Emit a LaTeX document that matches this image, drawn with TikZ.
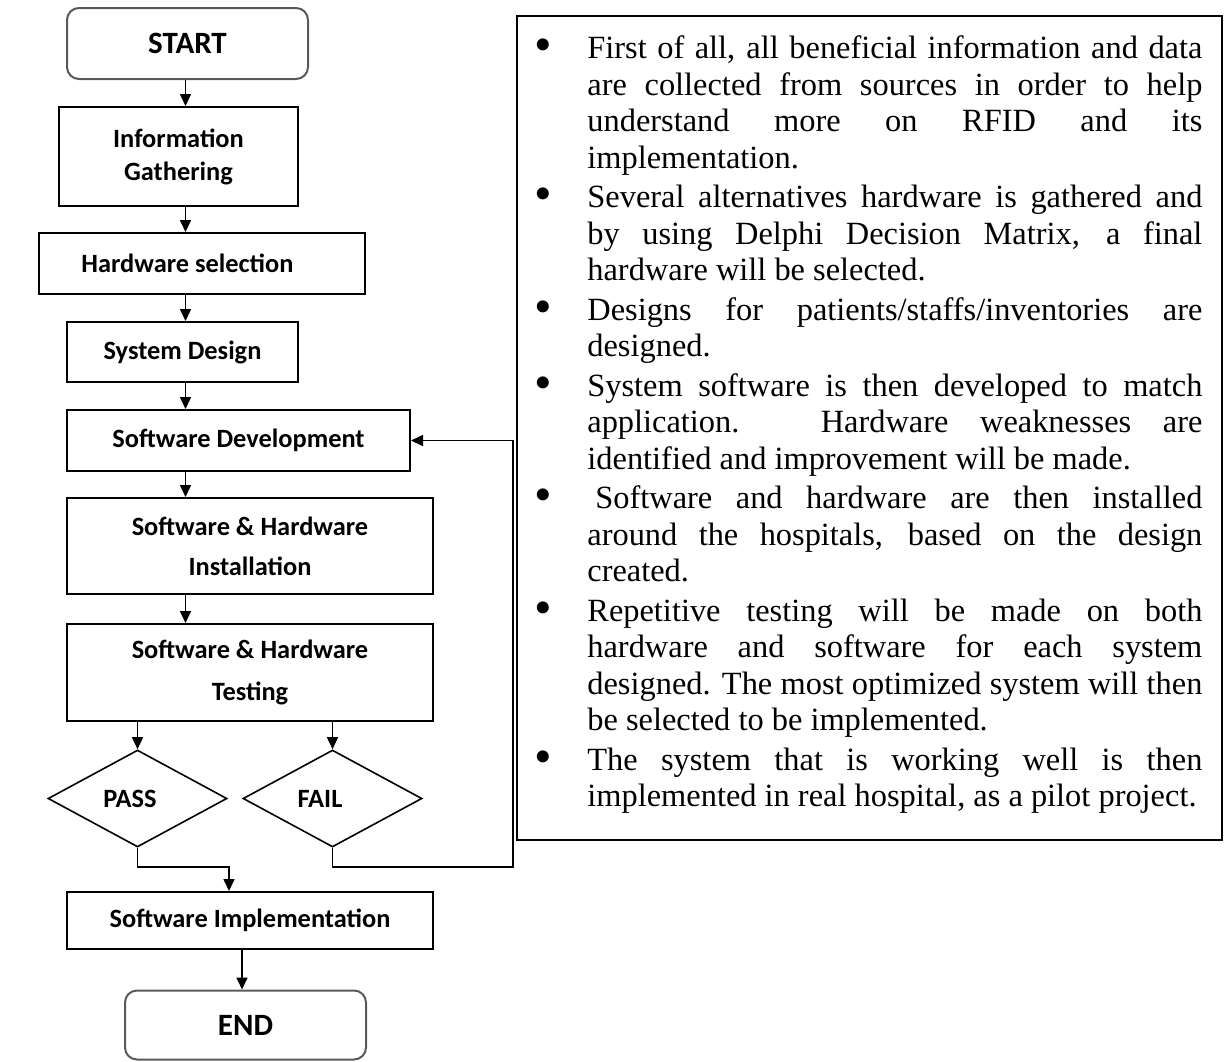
\documentclass[tikz,border=0pt]{standalone}
\usepackage{fontspec}
\setmainfont{Liberation Serif}
\newfontfamily\flowfont{Carlito}
\usetikzlibrary{arrows.meta,shapes.geometric,calc}

% justified note lines
\newlength\tw \setlength\tw{307.5pt}
\newcommand\fullln[1]{\makebox[\tw][s]{#1}}
\newcommand\lastln[1]{\makebox[\tw][l]{#1}}
\newcommand\bul{\makebox[28.5pt][l]{\hspace{2.2pt}\raisebox{-1.6pt}{\scalebox{1.55}{\textbullet}}}}
\newcommand\ind{\hspace*{28.5pt}}

\begin{document}
\begin{tikzpicture}[x=0.5pt,y=-0.5pt,
  proc/.style={draw, line width=1pt, inner sep=0pt, align=center,
    font=\flowfont\bfseries\fontsize{13.2}{16.5}\selectfont},
  term/.style={draw=black!65, line width=1pt, rounded corners=6pt, inner sep=0pt,
    font=\flowfont\bfseries\fontsize{15.5}{18}\selectfont},
  dec/.style={diamond, draw, line width=0.8pt, inner sep=0pt,
    font=\flowfont\bfseries\fontsize{13.2}{16.5}\selectfont},
  arr/.style={-{Triangle[length=6pt,width=5.5pt]}, line width=0.8pt}]
\useasboundingbox (0,0) rectangle (1226,1061);

% flowchart
\node[term, minimum width=120.5pt, minimum height=35.5pt] (start) at (187.5,43.5) {START};
\node[proc, minimum width=119.5pt, minimum height=49.5pt] (info) at (178.5,156.5) {Information\\Gathering};
\node[proc, minimum width=163pt, minimum height=30.5pt] (hws) at (202,263.5) {Hardware selection\hspace*{14.5pt}};
\node[proc, minimum width=115.5pt, minimum height=30pt] (sd) at (182.5,352) {System Design};
\node[proc, minimum width=171.5pt, minimum height=30.5pt] (swd) at (238.5,440.5) {Software Development};
\node[proc, minimum width=183pt, minimum height=48pt,
  font=\flowfont\bfseries\fontsize{13.2}{20}\selectfont] (inst) at (250,546) {Software \& Hardware\\Installation};
\node[proc, minimum width=183pt, minimum height=48.5pt,
  font=\flowfont\bfseries\fontsize{13.2}{21}\selectfont] (test) at (250,672.5) {Software \& Hardware\\Testing};
\node[dec, minimum width=89.5pt, minimum height=48.5pt] (pass) at (137.5,798.5) {PASS\hspace*{7.5pt}};
\node[dec, minimum width=89.5pt, minimum height=48.5pt] (fail) at (332.5,798.5) {FAIL\hspace*{12.5pt}};
\node[proc, minimum width=183pt, minimum height=28.5pt] (impl) at (250,920.5) {Software Implementation};
\node[term, minimum width=120.5pt, minimum height=34.5pt] (stop) at (245.5,1025) {END};

% connectors
\coordinate (spine) at (185.5,0);
\draw[arr] (spine |- start.south) -- (spine |- info.north);
\draw[arr] (spine |- info.south) -- (spine |- hws.north);
\draw[arr] (spine |- hws.south) -- (spine |- sd.north);
\draw[arr] (spine |- sd.south) -- (spine |- swd.north);
\draw[arr] (spine |- swd.south) -- (spine |- inst.north);
\draw[arr] (spine |- inst.south) -- (spine |- test.north);
\draw[arr] (pass.north |- test.south) -- (pass.north);
\draw[arr] (fail.north |- test.south) -- (fail.north);
\coordinate (merge) at (229,867);
\coordinate (loop) at (513,867);
\draw[arr] (pass.south) |- (merge) -- (merge |- impl.north);
\draw[arr] (fail.south) |- (loop) -- (loop |- swd.east) -- (swd.east);
\coordinate (drop) at (242,0);
\draw[arr] (drop |- impl.south) -- (drop |- stop.north);

% notes panel
\node[draw, line width=1pt, inner sep=0pt, minimum width=352.5pt, minimum height=412pt] (notes) at (869.5,428) {};
\node[anchor=north west, inner sep=0pt, align=left,
  font=\fontsize{16.2}{18.25}\selectfont] (list) at (530,34.3) {%
\bul\fullln{\rule{0pt}{12pt}First of all, all beneficial information and data}\\
\ind\fullln{are collected from sources in order to help}\\
\ind\fullln{understand more on RFID and its}\\
\ind\lastln{implementation.}\\[1.5pt]
\bul\fullln{Several alternatives hardware is gathered and}\\
\ind\fullln{by using Delphi Decision Matrix, a final}\\
\ind\lastln{hardware will be selected.}\\[1.5pt]
\bul\fullln{Designs for patients/staffs/inventories are}\\
\ind\lastln{designed.}\\[1.5pt]
\bul\fullln{System software is then developed to match}\\
\ind\fullln{application. Hardware weaknesses are}\\
\ind\lastln{identified and improvement will be made.}\\[1.5pt]
\bul\fullln{\hspace*{4pt}Software and hardware are then installed}\\
\ind\fullln{around the hospitals, based on the design}\\
\ind\lastln{created.}\\[1.5pt]
\bul\fullln{Repetitive testing will be made on both}\\
\ind\fullln{hardware and software for each system}\\
\ind\fullln{designed. The most optimized system will then}\\
\ind\lastln{be selected to be implemented.}\\[1.5pt]
\bul\fullln{The system that is working well is then}\\
\ind\lastln{implemented in real hospital, as a pilot project.}};
\end{tikzpicture}
\end{document}
